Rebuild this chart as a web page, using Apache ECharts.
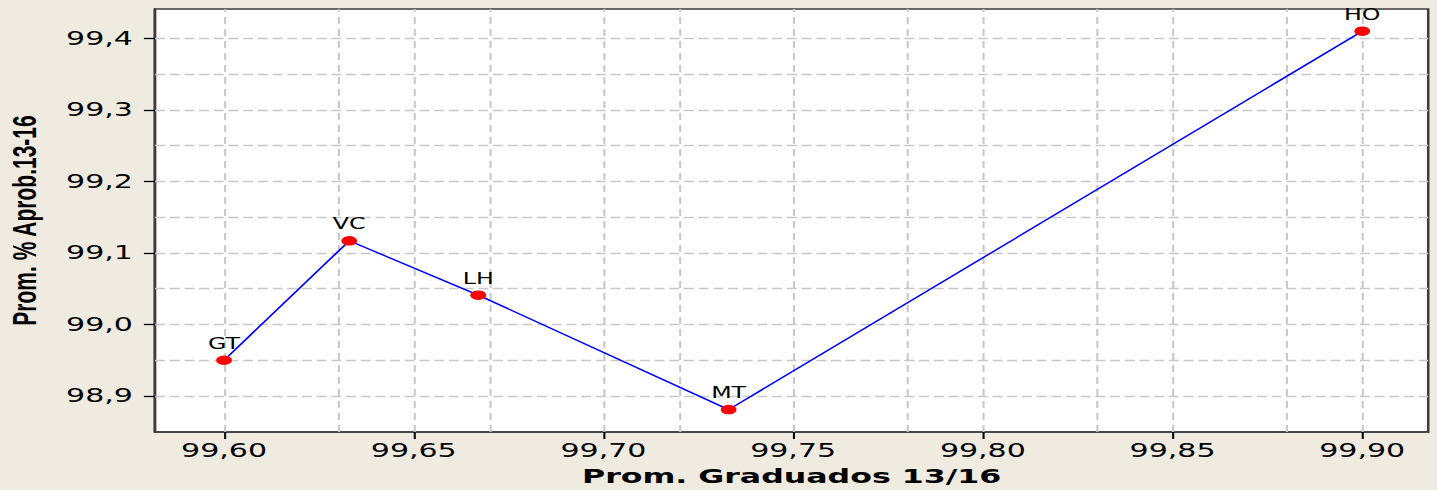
<!DOCTYPE html>
<html>
<head>
<meta charset="utf-8">
<script src="https://cdn.jsdelivr.net/npm/echarts@6/dist/echarts.min.js"></script>
<style>
  html, body { margin: 0; padding: 0; background: #EFEBE0; overflow: hidden; }
  #wrap { width: 1437px; height: 490px; overflow: hidden; position: relative; }
  #chart { position: absolute; left: 0; top: 0; height: 490px; transform-origin: 0 0; }
</style>
</head>
<body>
<div id="wrap"><div id="chart"></div></div>
<script>
// ---- data ----
const schools = ['GT', 'VC', 'LH', 'MT', 'HO'];
const graduados = [99.600, 99.633, 99.667, 99.733, 99.900];
const aprobados = [98.950, 99.117, 99.041, 98.881, 99.410];
const xTicks = [99.60, 99.65, 99.70, 99.75, 99.80, 99.85, 99.90];
const yTicks = [98.9, 99.0, 99.1, 99.2, 99.3, 99.4];
const xGrid = [99.600, 99.625, 99.650, 99.675, 99.700, 99.725, 99.750, 99.775, 99.800, 99.825, 99.850, 99.875, 99.900];
const yGrid = [98.90, 98.95, 99.00, 99.05, 99.10, 99.15, 99.20, 99.25, 99.30, 99.35, 99.40];
const xTitle = 'Prom. Graduados 13/16';
const yTitle = 'Prom. % Aprob.13-16';

// horizontal stretch of the original picture
const S = 1.58;
const el = document.getElementById('chart');
el.style.width = (1437 / S) + 'px';
el.style.transform = 'scaleX(' + S + ')';

const chart = echarts.init(el, null, { renderer: 'svg' });
const gridColor = '#C8C8C8';
const markData = [];
xGrid.forEach(v => markData.push({ xAxis: v, lineStyle: { type: [7, 5] } }));
yGrid.forEach(v => markData.push({ yAxis: v, lineStyle: { type: [6.3, 3] } }));

chart.setOption({
  animation: false,
  backgroundColor: '#EFEBE0',
  grid: {
    left: 155 / S, right: 8 / S, top: 9, bottom: 58,
    containLabel: false, outerBoundsMode: 'none',
    show: true, backgroundColor: '#FFFFFF',
    borderColor: '#3C3C3C', borderWidth: 1.6
  },
  xAxis: {
    type: 'value', min: 99.5818, max: 99.9174,
    name: xTitle, nameLocation: 'middle', nameGap: 34,
    nameTextStyle: { fontFamily: 'DejaVu Sans', fontWeight: 'bold', fontSize: 20, color: '#000' },
    axisLine: { show: true, onZero: false, lineStyle: { color: '#3C3C3C', width: 1.6 } },
    axisTick: { show: true, customValues: xTicks, length: 7, lineStyle: { color: '#000', width: 1.3 } },
    axisLabel: { customValues: xTicks, margin: 9, fontFamily: 'DejaVu Sans', fontSize: 19, color: '#000',
      formatter: v => v.toFixed(2).replace('.', ',') },
    splitLine: { show: false }
  },
  yAxis: {
    type: 'value', min: 98.8497, max: 99.441,
    name: yTitle, nameLocation: 'middle', nameGap: 72,
    nameTextStyle: { fontFamily: 'Liberation Sans', fontWeight: 'bold', fontSize: 21, color: '#000' },
    axisLine: { show: true, onZero: false, lineStyle: { color: '#3C3C3C', width: 1.6 } },
    axisTick: { show: true, customValues: yTicks, length: 7, lineStyle: { color: '#000', width: 1.3 } },
    axisLabel: { customValues: yTicks, margin: 14, fontFamily: 'DejaVu Sans', fontSize: 19, color: '#000',
      formatter: v => v.toFixed(1).replace('.', ',') },
    splitLine: { show: false }
  },
  series: [
    {
      type: 'line', data: [], z: 1, silent: true,
      markLine: {
        silent: true, z: 1, symbol: ['none', 'none'], label: { show: false },
        lineStyle: { color: gridColor, width: 1.3 },
        emphasis: { disabled: true },
        data: markData
      }
    },
    {
      type: 'line', z: 10,
      data: schools.map((s, i) => ({ name: s, value: [graduados[i], aprobados[i]] })),
      lineStyle: { color: '#0000FF', width: 1.3 },
      symbol: 'circle', symbolSize: [10, 9.5],
      itemStyle: { color: '#FF0000', borderWidth: 0 },
      label: { show: true, position: 'top', distance: 4, formatter: '{b}',
        fontFamily: 'DejaVu Sans', fontSize: 15, color: '#000' }
    }
  ]
});
</script>
</body>
</html>
